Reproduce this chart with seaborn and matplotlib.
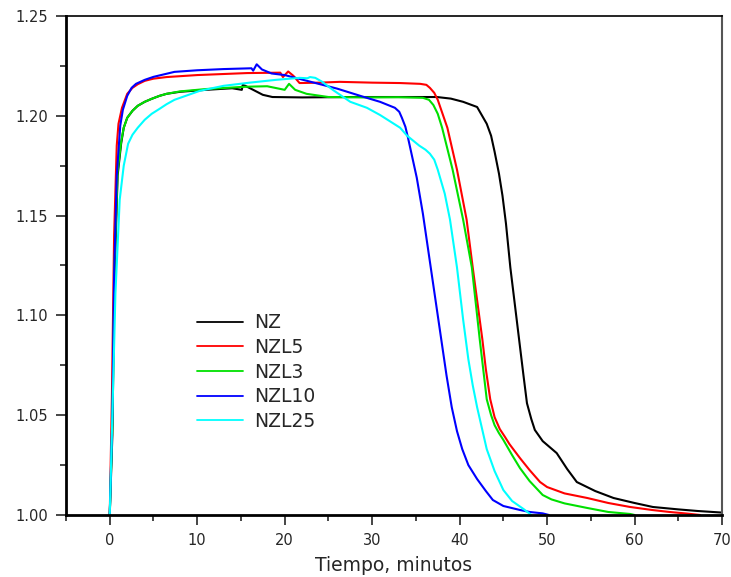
import numpy as np
import pandas as pd
import matplotlib
matplotlib.use("Agg")
import matplotlib.pyplot as plt
import seaborn as sns
from matplotlib.ticker import MultipleLocator

# --- datos ---
nz_t = [0, 0.3, 0.55, 0.9, 1.3, 1.6, 2, 2.6, 3.2, 4, 4.8, 5.7, 6.5, 8, 11, 14, 15.1, 15.2, 15.5, 16.4, 17.5,
        18.6, 22, 28, 34, 37.4, 39, 40.4, 42, 43.1, 43.6, 44, 44.5, 44.9, 45.3, 45.8, 46.8, 47.3, 47.7, 48.2,
        48.6, 49.5, 51.1, 52.3, 53.4, 55.5, 57.6, 60, 62.1, 65, 67.2, 70]
nz_y = [1.000, 1.040, 1.120, 1.170, 1.186, 1.194, 1.199, 1.2025, 1.205, 1.207, 1.2085, 1.210, 1.211, 1.212,
        1.213, 1.2138, 1.213, 1.2154, 1.2150, 1.213, 1.2105, 1.2094, 1.2092, 1.2094, 1.2094, 1.2094, 1.2086,
        1.2070, 1.2044, 1.1960, 1.1900, 1.1820, 1.1710, 1.1600, 1.1460, 1.1240, 1.088, 1.070, 1.056, 1.048,
        1.0426, 1.037, 1.031, 1.023, 1.0165, 1.012, 1.0085, 1.006, 1.004, 1.0028, 1.002, 1.0012]

nzl5_t = [0, 0.25, 0.5, 0.8, 1.0, 1.4, 2, 2.6, 3.2, 4, 5, 6.5, 10, 15.7, 19.5, 19.8, 20.4, 21, 21.7, 24,
          26.3, 30, 33.2, 35.5, 36.2, 36.6, 37.1, 37.5, 38.6, 39.7, 40.8, 41.5, 42.6, 43.0, 43.5, 44.0, 44.6,
          45.2, 45.7, 46.9, 48, 49.2, 50, 52, 54.6, 57, 59.5, 62, 64, 66, 67.5]
nzl5_y = [1.000, 1.060, 1.140, 1.185, 1.196, 1.204, 1.211, 1.214, 1.2158, 1.2175, 1.2186, 1.2194, 1.2204,
          1.2214, 1.2216, 1.2194, 1.2222, 1.2200, 1.2164, 1.2166, 1.2170, 1.2166, 1.2164, 1.2160, 1.2155,
          1.2140, 1.2115, 1.2080, 1.194, 1.173, 1.148, 1.124, 1.088, 1.073, 1.058, 1.049, 1.043, 1.039, 1.0355,
          1.0285, 1.0225, 1.0165, 1.014, 1.0108, 1.0085, 1.006, 1.004, 1.0025, 1.0015, 1.0007, 1.000]

nzl3_t = [0, 0.3, 0.55, 0.9, 1.3, 1.6, 2, 2.6, 3.2, 4, 4.8, 5.7, 6.5, 8, 11, 14.9, 16, 18, 20, 20.5, 21.2,
          22.5, 25, 29.4, 33, 35.8, 36.5, 37, 37.5, 38, 39.2, 40.4, 41.4, 42.3, 43.1, 43.6, 44, 44.5, 45, 46,
          46.9, 48, 49.5, 50.5, 52, 54.6, 57, 59.5, 60]
nzl3_y = [1.000, 1.045, 1.125, 1.172, 1.187, 1.194, 1.199, 1.2025, 1.205, 1.207, 1.2085, 1.210, 1.211,
          1.2122, 1.2134, 1.2144, 1.2146, 1.2148, 1.2130, 1.2160, 1.2130, 1.2110, 1.2094, 1.2092, 1.2093,
          1.2090, 1.2080, 1.2054, 1.2010, 1.194, 1.173, 1.148, 1.124, 1.088, 1.058, 1.050, 1.045, 1.041,
          1.0376, 1.030, 1.0235, 1.017, 1.010, 1.0078, 1.0058, 1.0035, 1.0015, 1.0005, 1.000]

nzl10_t = [0, 0.3, 0.5, 0.8, 1.2, 1.5, 2, 2.5, 3, 4, 5, 7.4, 10, 13, 16.2, 16.4, 16.8, 17.4, 18.5, 20, 23,
           26, 29, 30.9, 32.6, 33.1, 33.4, 33.8, 34.1, 35.1, 35.8, 37, 37.9, 38.5, 39.1, 39.7, 40.3, 41, 42,
           43, 43.8, 45, 46.9, 48, 49.5, 50.2]
nzl10_y = [1.000, 1.050, 1.120, 1.170, 1.195, 1.203, 1.210, 1.214, 1.216, 1.218, 1.2195, 1.2220, 1.2228,
           1.2234, 1.2238, 1.2226, 1.2258, 1.2232, 1.2212, 1.2204, 1.2170, 1.2136, 1.2095, 1.2070, 1.2040,
           1.2020, 1.1990, 1.1945, 1.1890, 1.1690, 1.1510, 1.1150, 1.0880, 1.0700, 1.0540, 1.0420, 1.0330,
           1.0250, 1.0180, 1.0120, 1.0075, 1.0045, 1.0025, 1.0015, 1.0008, 1.000]

nzl25_t = [0, 0.3, 0.65, 1.14, 1.6, 2.1, 2.6, 3.2, 4, 4.8, 5.7, 6.5, 7.4, 10.3, 13, 16, 19, 21.7, 22.6, 22.9,
           23.5, 24.3, 25.5, 27.5, 29.4, 30.9, 33.2, 34, 35.4, 36.1, 36.6, 37.1, 37.5, 38.3, 38.9, 39.7, 40.4,
           41, 41.5, 42, 43.1, 44, 45, 46, 47.3, 48.2]
nzl25_y = [1.000, 1.050, 1.111, 1.158, 1.175, 1.186, 1.1905, 1.1940, 1.198, 1.2010, 1.2035, 1.2058, 1.208,
           1.2125, 1.2150, 1.2166, 1.2180, 1.2190, 1.2188, 1.2194, 1.2190, 1.2170, 1.2130, 1.2070, 1.2040,
           1.2004, 1.1940, 1.1900, 1.1850, 1.1830, 1.1810, 1.1780, 1.1730, 1.1610, 1.1480, 1.1240, 1.0980,
           1.0780, 1.0650, 1.0540, 1.0330, 1.0220, 1.0125, 1.0070, 1.0030, 1.000]

series = ["NZ", "NZL5", "NZL3", "NZL10", "NZL25"]
colores = ["#000000", "#ff0000", "#00e000", "#0000ff", "#00ffff"]

frames = []
for nombre, t, y in zip(series,
                        [nz_t, nzl5_t, nzl3_t, nzl10_t, nzl25_t],
                        [nz_y, nzl5_y, nzl3_y, nzl10_y, nzl25_y]):
    frames.append(pd.DataFrame({"t": t, "y": y, "muestra": nombre}))
df = pd.concat(frames, ignore_index=True)

sns.set_style("white")
plt.rcParams["font.family"] = ["DejaVu Sans"]

fig = plt.figure(figsize=(7.31, 5.77), dpi=100)
ax = fig.add_axes([0.0903, 0.1075, 0.8974, 0.8648])

sns.lineplot(data=df, x="t", y="y", hue="muestra", hue_order=series,
             palette=colores, sort=False, estimator=None, linewidth=1.5, ax=ax)

ax.set_xlim(-5, 70)
ax.set_ylim(1.0, 1.25)
ax.xaxis.set_major_locator(MultipleLocator(10))
ax.xaxis.set_minor_locator(MultipleLocator(5))
ax.yaxis.set_major_locator(MultipleLocator(0.05))
ax.yaxis.set_minor_locator(MultipleLocator(0.025))
ax.yaxis.set_major_formatter(matplotlib.ticker.FormatStrFormatter("%.2f"))

ax.tick_params(which="major", direction="out", length=7, width=1.2, labelsize=10.5,
               bottom=True, left=True, top=False, right=False, pad=6)
ax.tick_params(which="minor", direction="out", length=4, width=1.2,
               bottom=True, left=True, top=False, right=False)

for lado in ["left", "bottom"]:
    ax.spines[lado].set_linewidth(2)
    ax.spines[lado].set_color("black")
ax.spines["top"].set_linewidth(1.2)
ax.spines["top"].set_color("black")
ax.spines["right"].set_linewidth(1.5)
ax.spines["right"].set_color("#555555")

ax.set_xlabel("Tiempo, minutos", fontsize=13.5, labelpad=6)
ax.set_ylabel("")

leg = ax.legend(loc="upper left", bbox_to_anchor=(0.1875, 0.419), frameon=False, borderaxespad=0,
                fontsize=13.5, handlelength=2.5, handletextpad=0.55, labelspacing=0.3)
for linea in leg.get_lines():
    linea.set_linewidth(1.3)

fig.savefig("out.png", dpi=100)
